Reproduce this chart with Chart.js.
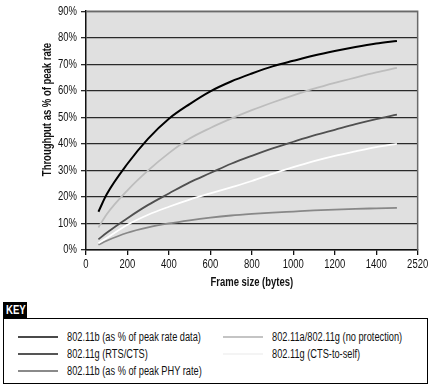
<!DOCTYPE html>
<html lang="en">
  <head>
    <title>Throughput vs frame size</title>
    <meta charset="utf-8">
    <script type="text/javascript" src="https://cdn.jsdelivr.net/npm/chart.js@4/dist/chart.umd.min.js"></script>
    <style>
      body { margin: 0; background: #fff; font-family: "Liberation Sans", sans-serif; }
      #wrap { position: relative; width: 433px; height: 386px; }
      #cv { position: absolute; left: 0; top: 0; }
      #keytag { position: absolute; left: 3px; top: 302px; width: 24px; height: 17px; background: #000; color: #fff;
                font-weight: bold; font-size: 12px; line-height: 17px; overflow: hidden; }
      #keytag span { display: inline-block; transform: scaleX(0.8); transform-origin: 0 50%; margin-left: 3px; }
      #keybox { position: absolute; left: 3px; top: 318px; width: 423px; height: 64px; border: 1.5px solid #000; }
      .item { position: absolute; font-size: 12px; color: #111; line-height: 14px; }
      .item span.ln { position: absolute; left: 0; top: 6px; width: 40px; height: 2px; }
      .item span.tx { position: absolute; left: 49px; top: 0; white-space: nowrap; transform: scaleX(0.77); transform-origin: 0 50%; }
    </style>
  </head>
  <body>
    <div id="wrap">
      <canvas id="cv" width="433" height="300"></canvas>
      <div id="keytag"><span>KEY</span></div>
      <div id="keybox"></div>
    </div>

    <script language="javascript" type="text/javascript">

      // frame sizes (bytes) the curves are sampled at
      frame_sizes = [60, 100, 200, 300, 400, 500, 600, 700, 800, 900, 1000, 1100, 1200, 1300, 1400, 1500];

      // throughput, % of peak rate
      b_data    = [14.4, 21, 32.5, 42, 49.5, 55, 59.8, 63.5, 66.5, 69.2, 71.3, 73.3, 75, 76.5, 77.8, 78.8];
      ag_noprot = [8.5, 13.5, 22.5, 30, 36.5, 42, 46, 49.5, 52.7, 55.6, 58.3, 60.8, 63, 65, 66.9, 68.6];
      g_rtscts  = [4, 6.5, 12, 17, 21.3, 25.5, 29, 32.5, 35.5, 38.3, 40.8, 43.2, 45.3, 47.4, 49.3, 51];
      g_ctsself = [2.5, 4.5, 9.5, 13.3, 16.3, 19, 21.3, 23.6, 26, 28.7, 31.2, 33.5, 35.5, 37.2, 38.8, 40];
      b_phy     = [2, 3.5, 6.5, 8.5, 10, 11.2, 12.2, 13, 13.6, 14.1, 14.5, 14.9, 15.2, 15.5, 15.7, 15.9];

      series_names = [
        "802.11b (as % of peak rate data)",
        "802.11g (RTS/CTS)",
        "802.11b (as % of peak PHY rate)",
        "802.11a/802.11g (no protection)",
        "802.11g (CTS-to-self)"
      ];

      // x tick labels; the last one on the original axis reads 2520
      x_ticks = [0, 200, 400, 600, 800, 1000, 1200, 1400, 1600];
      x_tick_labels = ["0", "200", "400", "600", "800", "1000", "1200", "1400", "2520"];

      y_ticks = [0, 10, 20, 30, 40, 50, 60, 70, 80, 90];

      series_values = [b_data, g_rtscts, b_phy, ag_noprot, g_ctsself];
      series_colors = ["#000000", "#505050", "#888888", "#bdbdbd", "#ffffff"];
      legend_colors = ["#4a4a4a", "#555555", "#8a8a8a", "#c4c4c4", "#f4f4f4"];

      FONT = "'Liberation Sans', sans-serif";
      SQUEEZE = 0.79;   // no condensed face installed, so squeeze the text horizontally

      function makeSet(i)
      {
        let pts = [];
        for (let k = 0; k < frame_sizes.length; k++)
          pts.push({x: frame_sizes[k], y: series_values[i][k]});
        return {
          label: series_names[i],
          data: pts,
          borderColor: series_colors[i],
          borderWidth: i == 0 ? 2 : 1.8,
          radius: 0,
          showLine: true,
          cubicInterpolationMode: "monotone"
        };
      }

      // plot background, grey frame on top/right, narrow text
      plotFrame = {
        id: "plotFrame",
        afterInit(chart) {
          let c = chart.ctx;
          let fill = c.fillText.bind(c);
          c.fillText = function(t, x, y, w) {
            c.save();
            c.translate(x, y);
            c.scale(SQUEEZE, 1);
            if (w === undefined) fill(t, 0, 0); else fill(t, 0, 0, w / SQUEEZE);
            c.restore();
          };
        },
        beforeDraw(chart) {
          let a = chart.chartArea, c = chart.ctx;
          c.save();
          c.fillStyle = "#e0e0e0";
          c.fillRect(a.left, a.top, a.right - a.left, a.bottom - a.top);
          c.restore();
        },
        afterDraw(chart) {
          let a = chart.chartArea, c = chart.ctx;
          c.save();
          c.strokeStyle = "#6a6a6a";
          c.lineWidth = 1.5;
          c.beginPath();
          c.moveTo(a.left, a.top);
          c.lineTo(a.right, a.top);
          c.lineTo(a.right, a.bottom);
          c.stroke();
          c.restore();
        }
      };

      // draw order: lighter lines first so the black one sits on top
      sets = [4, 3, 2, 1, 0].map(makeSet);

      chart = new Chart("cv", {
        type: "scatter",
        data: { datasets: sets },
        plugins: [plotFrame],
        options: {
          responsive: false,
          animation: false,
          layout: { padding: { top: 5, right: 13, left: 40, bottom: 0 } },
          plugins: { legend: { display: false }, tooltip: { enabled: false } },
          scales: {
            x: {
              type: "linear",
              min: 0,
              max: 1600,
              afterBuildTicks(s) { s.ticks = x_ticks.map(v => ({value: v})); },
              afterFit(s) { s.height = 50; },
              ticks: {
                color: "#111",
                font: { family: FONT, size: 12 },
                padding: 2,
                maxRotation: 0,
                callback: (v) => x_tick_labels[x_ticks.indexOf(v)]
              },
              grid: { drawOnChartArea: false, drawTicks: true, tickLength: 5, color: "#111", lineWidth: 1.3 },
              border: { color: "#111", width: 1.5 },
              title: {
                display: true,
                text: "Frame size (bytes)",
                color: "#111",
                font: { family: FONT, size: 12, weight: "bold" },
                padding: { top: 0, bottom: 10 }
              }
            },
            y: {
              min: 0,
              max: 90,
              afterBuildTicks(s) { s.ticks = y_ticks.map(v => ({value: v})); },
              afterFit(s) { s.width = 46; },
              ticks: {
                color: "#111",
                font: { family: FONT, size: 12 },
                padding: 4,
                callback: (v) => v + "%"
              },
              grid: { color: "#2a2a2a", lineWidth: 1.3, tickLength: 5 },
              border: { color: "#111", width: 1.5 },
              title: {
                display: true,
                // leading spaces lift the title above the axis middle, as in the original
                text: " ".repeat(16) + "Throughput as % of peak rate",
                color: "#111",
                font: { family: FONT, size: 12, weight: "bold" },
                padding: { top: 0, bottom: 0 }
              }
            }
          }
        }
      });

      // legend (KEY box): two columns, filled top to bottom
      key_pos = [[14, 11], [14, 28], [14, 45], [219, 11], [219, 28]];
      box = document.getElementById("keybox");
      for (let i = 0; i < series_names.length; i++)
      {
        let d = document.createElement("div");
        d.className = "item";
        d.style.left = key_pos[i][0] + "px";
        d.style.top = key_pos[i][1] + "px";
        d.innerHTML = '<span class="ln" style="background:' + legend_colors[i] + '"></span><span class="tx"></span>';
        d.querySelector(".tx").textContent = series_names[i];
        box.appendChild(d);
      }

    </script>
  </body>
</html>
